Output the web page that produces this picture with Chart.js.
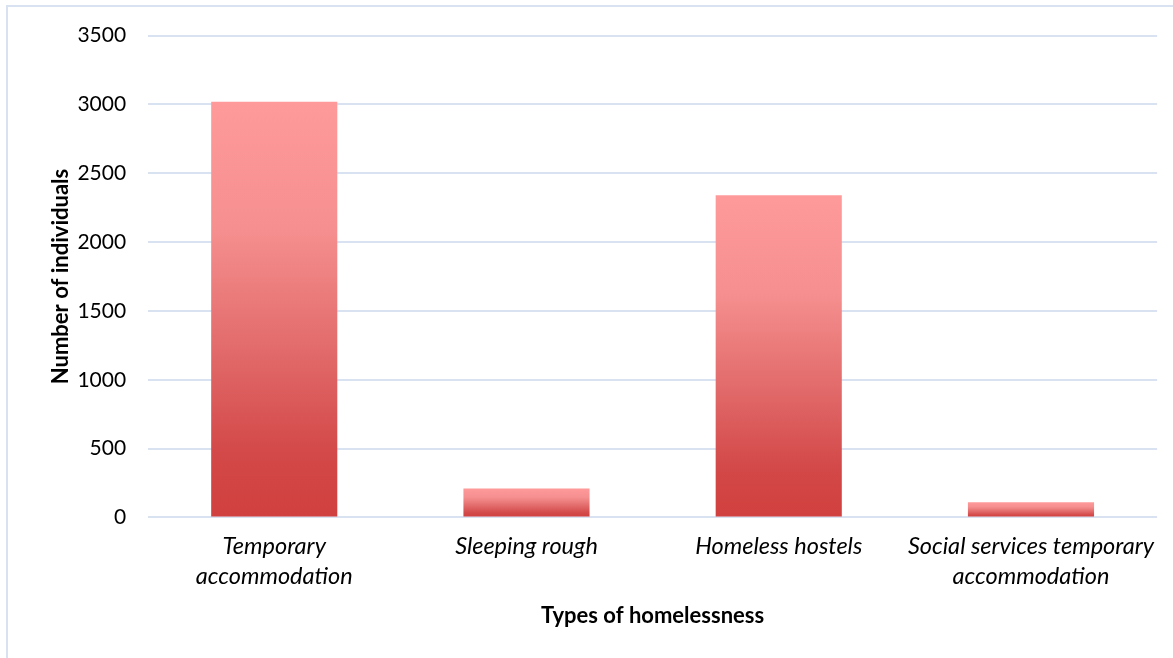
<!DOCTYPE html>
<html>
<head>
<meta charset="utf-8">
<script src="https://cdn.jsdelivr.net/npm/chart.js@4"></script>
<style>
  html, body { margin: 0; padding: 0; background: #fff; overflow: hidden; }
  #wrap {
    position: absolute; left: 6px; top: 5px;
    width: 1220px; height: 700px;
    border: 2px solid #d9e2f1; box-sizing: border-box;
  }
  #myChart { position: absolute; left: 0; top: -6px; }
</style>
</head>
<body>
<div id="wrap"><canvas id="myChart" width="1161" height="660"></canvas></div>
<script>
const labels = [
  ['Temporary', 'accommodation'],
  'Sleeping rough',
  'Homeless hostels',
  ['Social services temporary', 'accommodation'],
];

const individuals = [3020, 210, 2340, 110];

const yTicks = [0, 500, 1000, 1500, 2000, 2500, 3000, 3500];

// gradient for every bar, light on top, dark at the base
function barGradient(context) {
  const chart = context.chart;
  if (!chart.chartArea) return '#e06060';
  const y = chart.scales.y;
  const top = y.getPixelForValue(context.raw);
  const base = y.getPixelForValue(0);
  const g = chart.ctx.createLinearGradient(0, top, 0, base);
  g.addColorStop(0, '#ff9a9a');
  g.addColorStop(0.3, '#f69090');
  g.addColorStop(0.6, '#e26a6a');
  g.addColorStop(0.85, '#d34848');
  g.addColorStop(1, '#d0403e');
  return g;
}

const databar = {
  labels: labels,
  datasets: [{
    label: 'Number of individuals',
    data: individuals,
    backgroundColor: barGradient,
    borderWidth: 0,
    barPercentage: 0.5,
    categoryPercentage: 1,
  }]
};

const configbar = {
  type: 'bar',
  data: databar,
  options: {
    responsive: false,
    animation: false,
    layout: { padding: { left: 40, right: 8, top: 6, bottom: 32 } },
    plugins: {
      legend: { display: false },
      tooltip: { enabled: false },
    },
    scales: {
      x: {
        grid: { display: false, drawTicks: false },
        border: { display: false },
        ticks: {
          color: '#000',
          padding: 14,
          maxRotation: 0,
          autoSkip: false,
          font: { family: 'Lato', size: 23.5, style: 'italic', lineHeight: 1.28 },
        },
        title: {
          display: true,
          text: 'Types of homelessness',
          color: '#000',
          padding: { top: -3, bottom: 0 },
          font: { family: 'Lato', size: 22, weight: 'bold' },
        },
      },
      y: {
        min: 0,
        max: 3500,
        afterBuildTicks: function (axis) {
          axis.ticks = yTicks.map(v => ({ value: v }));
        },
        grid: { color: '#d9e2f1', lineWidth: 2, drawTicks: false },
        border: { display: false },
        ticks: {
          color: '#000',
          padding: 22,
          font: { family: 'Lato', size: 21 },
          callback: function (value) { return String(value); },
        },
        title: {
          display: true,
          text: 'Number of individuals',
          color: '#000',
          padding: { top: 0, bottom: -19 },
          font: { family: 'Lato', size: 22, weight: 'bold' },
        },
      },
    },
  },
};

const myChart = new Chart(
  document.getElementById('myChart'),
  configbar
);
</script>
</body>
</html>
